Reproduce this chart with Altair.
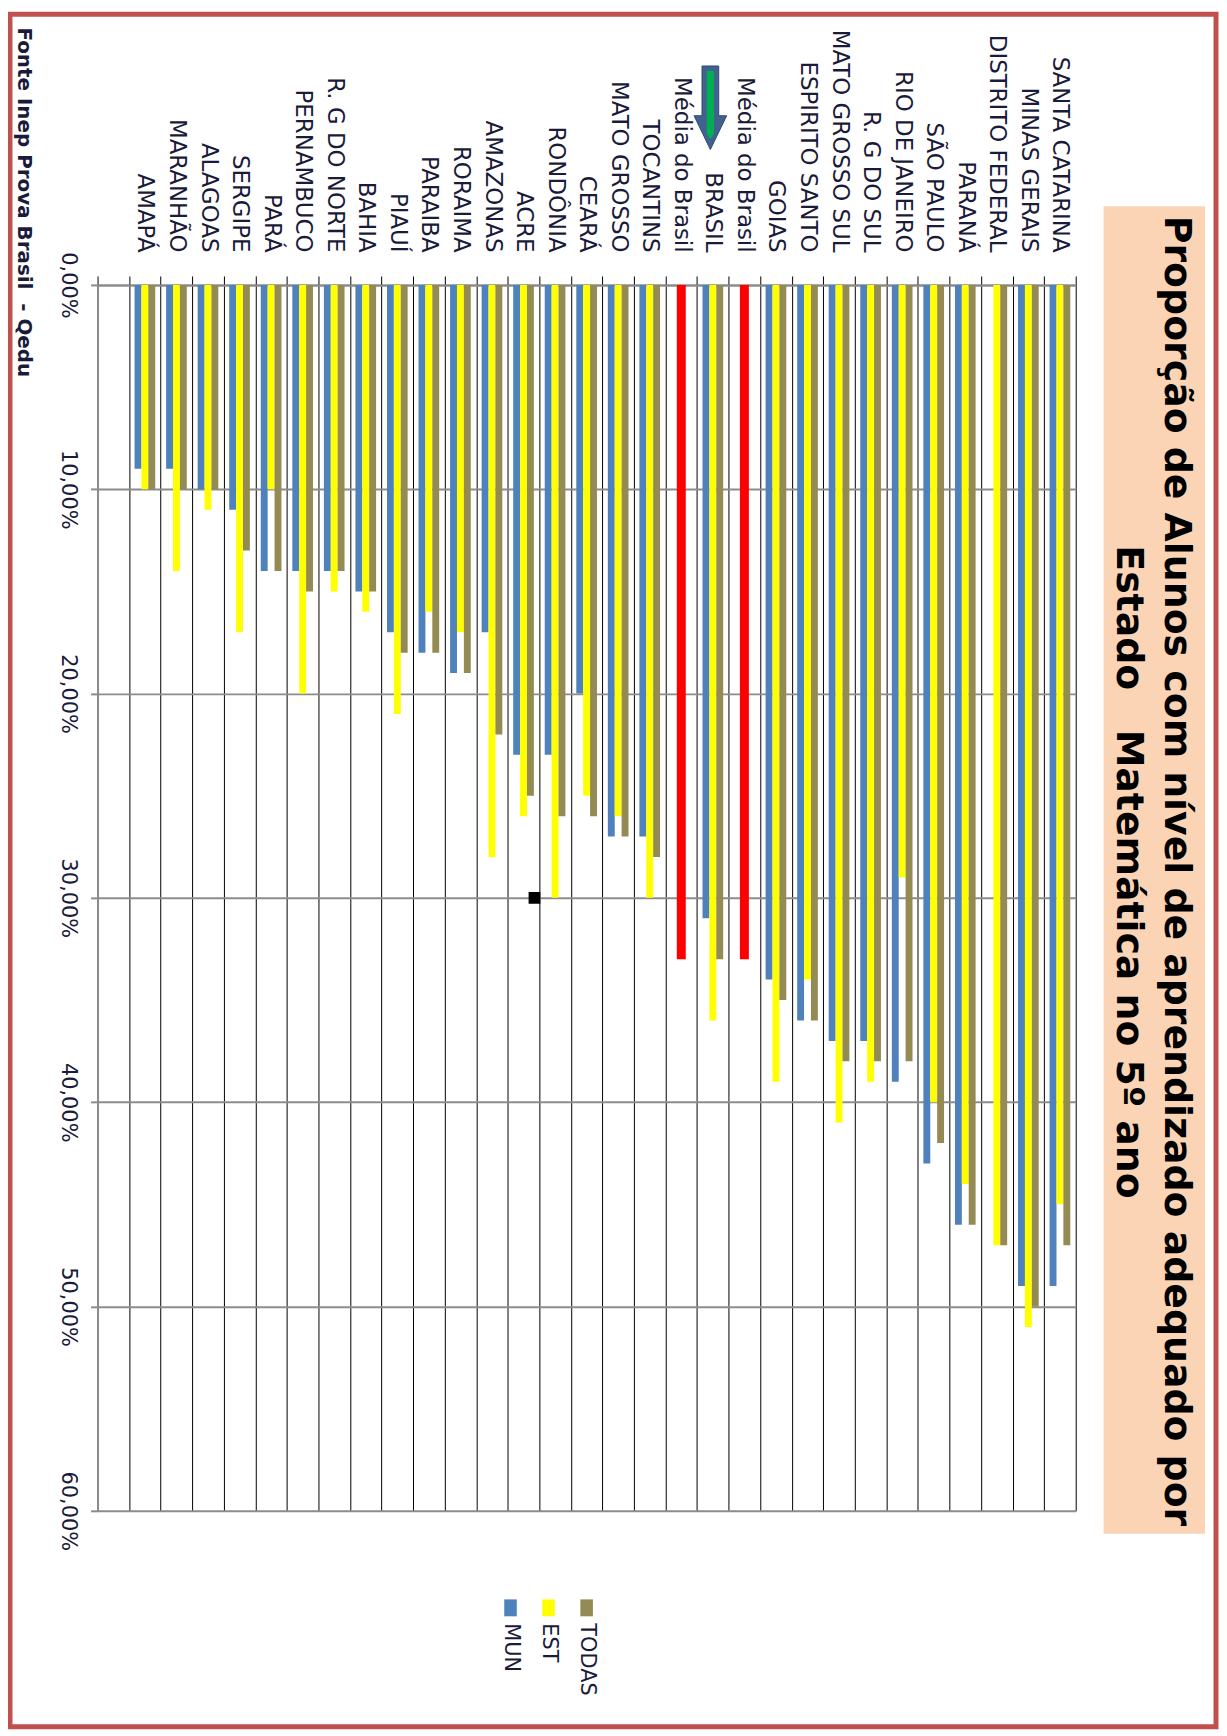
import altair as alt
import pandas as pd

# ---------------- data ----------------
categories = ["AMAPÁ", "MARANHÃO", "ALAGOAS", "SERGIPE", "PARÁ", "PERNAMBUCO",
              "R. G DO NORTE", "BAHIA", "PIAUÍ", "PARAIBA", "RORAIMA", "AMAZONAS",
              "ACRE", "RONDÔNIA", "CEARÁ", "MATO GROSSO", "TOCANTINS",
              "Média do Brasil", "BRASIL", "Média do Brasil ", "GOIAS",
              "ESPIRITO SANTO", "MATO GROSSO SUL", "R. G DO SUL", "RIO DE JANEIRO",
              "SÃO PAULO", "PARANÁ", "DISTRITO FEDERAL", "MINAS GERAIS",
              "SANTA CATARINA"]
mun = [9, 9, 10, 11, 14, 14, 14, 15, 17, 18, 19, 17, 23, 23, 20, 27, 27, None,
       31, None, 34, 36, 37, 37, 39, 43, 46, None, 49, 49]
est = [10, 14, 11, 17, 10, 20, 15, 16, 21, 16, 17, 28, 26, 30, 25, 26, 30, None,
       36, None, 39, 34, 41, 39, 29, 40, 44, 47, 51, 45]
todas = [10, 10, 10, 13, 14, 15, 14, 15, 18, 18, 19, 22, 25, 26, 26, 27, 28, None,
         33, None, 35, 36, 38, 38, 38, 42, 46, 47, 50, 47]
media = [None] * 17 + [33, None, 33] + [None] * 10

series_names = ["MUN", "EST", "TODAS"]
series_colors = ["#4F81BD", "#FFFF00", "#948A54"]
y_ticks = [0, 10, 20, 30, 40, 50, 60]

title_lines = ["Proporção de Alunos com nível de aprendizado adequado por",
               "Estado\u00a0\u00a0 Matemática no 5º ano"]
source_text = "Fonte Inep Prova Brasil\u00a0 - Qedu"
arrow_target = ["BRASIL"]
marker_cat = ["ACRE"]
marker_val = [30]

# ---------------- tables ----------------
rows = []
for i, c in enumerate(categories):
    for s, vals in zip(series_names, [mun, est, todas]):
        if vals[i] is not None:
            rows.append({"estado": c, "serie": s, "valor": vals[i]})
bars_df = pd.DataFrame(rows)
media_df = pd.DataFrame([{"estado": c, "valor": v} for c, v in zip(categories, media) if v is not None])
arrow_df = pd.DataFrame({"estado": arrow_target})
marker_df = pd.DataFrame({"estado": marker_cat, "valor": marker_val})
legend_df = pd.DataFrame({"serie": series_names})
one = pd.DataFrame({"k": [0]})

x_domain = [""] + categories
TXT = "#1a1a3a"
GRAY = "#8c8c8c"

x_scale = alt.Scale(domain=x_domain, paddingInner=0, paddingOuter=0)
y_scale = alt.Scale(domain=[0, 60], reverse=True, nice=False)
color_scale = alt.Scale(domain=series_names, range=series_colors)

x_axis = alt.Axis(orient="top", title=None, labelAngle=90, labelAlign="right",
                  labelBaseline="middle", labelPadding=24, labelFontSize=23,
                  labelFont="DejaVu Sans", labelColor=TXT, labelLimit=400,
                  labelOverlap=False, tickBand="extent", ticks=True, tickSize=9,
                  tickColor="#000000", tickWidth=1, grid=True, gridColor="#000000",
                  gridWidth=1, domainColor=GRAY, domainWidth=2)
y_axis = alt.Axis(orient="left", title=None, values=y_ticks,
                  labelExpr="replace(format(datum.value, '.2f'), '.', ',') + '%'",
                  labelAngle=90, labelAlign="center", labelBaseline="top",
                  labelPadding=12, labelFontSize=21, labelFont="DejaVu Sans",
                  labelColor=TXT, labelFlush=False, tickSize=7, tickColor=GRAY,
                  tickWidth=2, grid=True, gridColor=GRAY, gridWidth=2,
                  domainColor=GRAY, domainWidth=2)

frame = alt.Chart(one).mark_rect(filled=False, stroke="#C0504D", strokeWidth=5).encode(
    x=alt.value(-88), x2=alt.value(1124), y=alt.value(-272), y2=alt.value(1449))

title_box = alt.Chart(one).mark_rect(fill="#FAD4B4").encode(
    x=alt.value(1011), x2=alt.value(1113), y=alt.value(-79), y2=alt.value(1255))

bars = alt.Chart(bars_df).mark_bar().encode(
    x=alt.X("estado:N", scale=x_scale, axis=x_axis),
    xOffset=alt.XOffset("serie:N", scale=alt.Scale(domain=series_names,
                                                   paddingInner=0, paddingOuter=0.79)),
    y=alt.Y("valor:Q", scale=y_scale, axis=y_axis),
    color=alt.Color("serie:N", scale=color_scale, legend=None),
)

red = alt.Chart(media_df).mark_bar(color="#FF0000", width=9).encode(
    x=alt.X("estado:N"),
    y=alt.Y("valor:Q"),
)

marker = alt.Chart(marker_df).mark_square(color="#000000", size=140, opacity=1, xOffset=11).encode(
    x=alt.X("estado:N"),
    y=alt.Y("valor:Q"),
)

arrow_outer = alt.Chart(arrow_df).mark_point(
    shape="M -0.2 -1 L 0.2 -1 L 0.2 0.19 L 0.39 0.19 L 0 1 L -0.39 0.19 L -0.2 0.19 Z",
    size=7056, filled=True, fill="#41618F", stroke="#2E4A73", strokeWidth=1,
    opacity=1, xOffset=-2.5).encode(x=alt.X("estado:N"), y=alt.value(-178))

arrow_inner = alt.Chart(arrow_df).mark_point(
    shape="M -0.085 -0.88 L 0.085 -0.88 L 0.085 0.62 L 0 0.76 L -0.085 0.62 Z",
    size=7056, filled=True, fill="#00B050", strokeWidth=0,
    opacity=1, xOffset=-2.5).encode(x=alt.X("estado:N"), y=alt.value(-178))

title1 = alt.Chart(pd.DataFrame({"t": [title_lines[0]]})).mark_text(
    angle=90, align="center", baseline="alphabetic", font="DejaVu Sans",
    fontWeight="bold", fontSize=38, color="#000000").encode(
    text="t:N", x=alt.value(1073), y=alt.value(589))
title2 = alt.Chart(pd.DataFrame({"t": [title_lines[1]]})).mark_text(
    angle=90, align="center", baseline="alphabetic", font="DejaVu Sans",
    fontWeight="bold", fontSize=38, color="#000000").encode(
    text="t:N", x=alt.value(1024), y=alt.value(590))
source = alt.Chart(pd.DataFrame({"t": [source_text]})).mark_text(
    angle=90, align="center", baseline="alphabetic", font="DejaVu Sans",
    fontWeight="bold", fontSize=20, color=TXT).encode(
    text="t:N", x=alt.value(-80), y=alt.value(-83))

inner = alt.layer(frame, title_box, bars, red, marker, arrow_outer, arrow_inner,
                  title1, title2, source)

legend_x = alt.X("serie:N", scale=alt.Scale(type="point", domain=series_names,
                                            range=[415, 491.5], padding=0), axis=None)
legend_swatch = alt.Chart(legend_df).mark_tick(orient="vertical", thickness=12.6,
                                               size=17, opacity=1).encode(
    x=legend_x, y=alt.value(1329.5),
    color=alt.Color("serie:N", scale=color_scale, legend=None))
legend_text = alt.Chart(legend_df).mark_text(
    angle=90, align="left", baseline="middle", font="DejaVu Sans", fontSize=21,
    color=TXT).encode(x=legend_x, y=alt.value(1345), text="serie:N")

chart = alt.layer(inner, legend_swatch, legend_text).resolve_scale(
    x="independent"
).properties(
    width=983, height=1232,
    autosize=alt.AutoSizeParams(type="none"),
    padding={"left": 90, "top": 274, "right": 144, "bottom": 220},
    background="white",
).configure_view(stroke="transparent")

chart.save("out.html", embed_options={"renderer": "svg", "actions": False})
